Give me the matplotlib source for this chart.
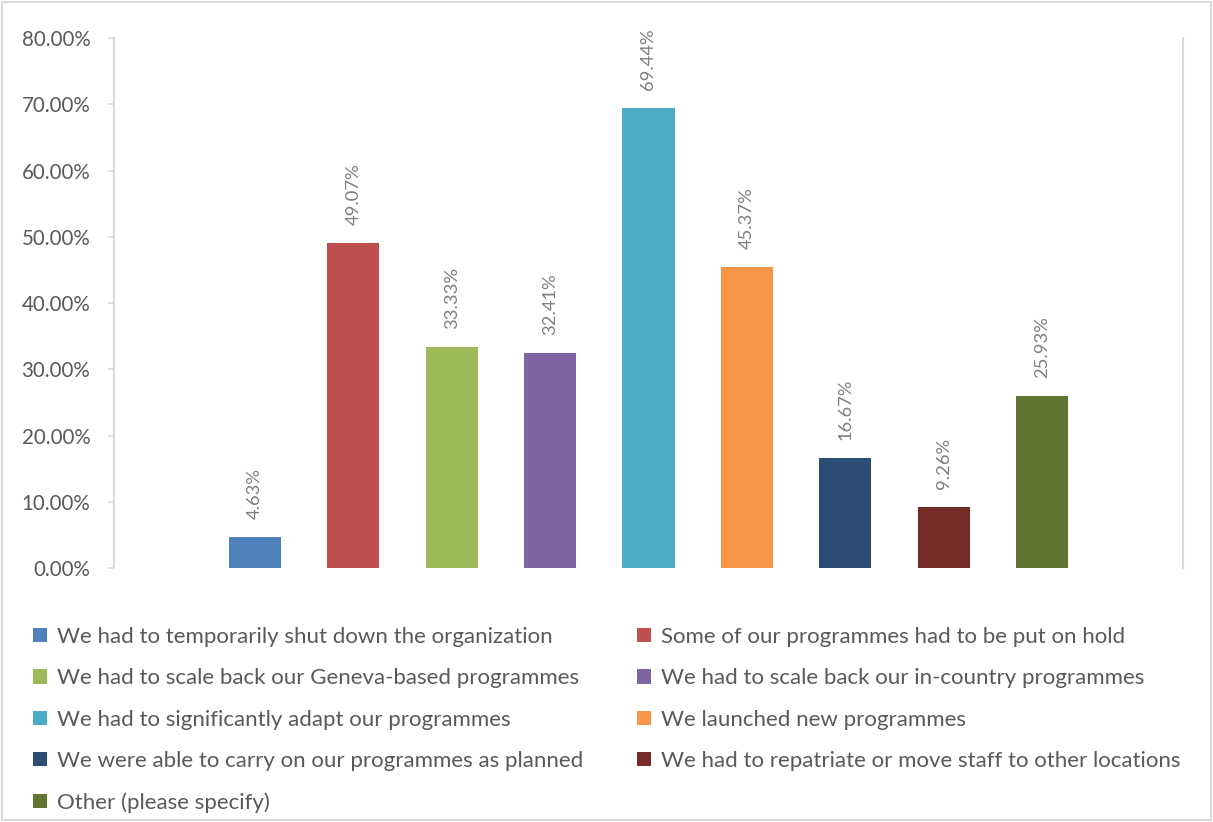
import matplotlib
matplotlib.use("Agg")
import matplotlib.pyplot as plt
from matplotlib.patches import Patch, Rectangle
from matplotlib.ticker import FuncFormatter

plt.rcParams['font.family'] = ['Lato', 'DejaVu Sans']

# survey answers, share of respondents
categories = [
    "We had to temporarily shut down the organization",
    "Some of our programmes had to be put on hold",
    "We had to scale back our Geneva-based programmes",
    "We had to scale back our in-country programmes",
    "We had to significantly adapt our programmes",
    "We launched new programmes",
    "We were able to carry on our programmes as planned",
    "We had to repatriate or move staff to other locations",
    "Other (please specify)",
]
shares = [4.63, 49.07, 33.33, 32.41, 69.44, 45.37, 16.67, 9.26, 25.93]
colors = ["#4F81BD", "#C0504D", "#9BBB59", "#8064A2", "#4BACC6",
          "#F79646", "#2C4D75", "#772C2A", "#5F7530"]
yticks = [0, 10, 20, 30, 40, 50, 60, 70, 80]

W, H = 1213, 822
fig = plt.figure(figsize=(W / 100, H / 100), dpi=100)
ax = fig.add_axes([114 / W, (H - 568) / H, (1183 - 114) / W, (568 - 38) / H])

x = list(range(len(shares)))
bars = ax.bar(x, shares, width=0.53, color=colors)

for xi, v in zip(x, shares):
    ax.annotate(f"{v:.2f}%", (xi, v), xytext=(0, 13), textcoords="offset points",
                rotation=90, ha="center", va="bottom", fontsize=13.2, color="#7F7F7F")

ax.set_xlim(-1.433, 9.433)
ax.set_ylim(0, 80)
ax.set_yticks(yticks)
ax.yaxis.set_major_formatter(FuncFormatter(lambda v, p: f"{v:.2f}%"))
ax.tick_params(axis="y", labelsize=14.8, labelcolor="#595959", color="#D9D9D9",
               length=4.5, width=1.2, pad=12.5)
ax.set_xticks([])
for side in ("top", "bottom"):
    ax.spines[side].set_visible(False)
for side in ("left", "right"):
    ax.spines[side].set_color("#D9D9D9")
    ax.spines[side].set_linewidth(1.5)

# legend, row-major order like the original
order = [0, 2, 4, 6, 8, 1, 3, 5, 7]
handles = [Patch(facecolor=colors[i], edgecolor="none") for i in order]
labels = [categories[i] for i in order]
fig.legend(handles, labels, ncol=2, loc="upper left",
           bbox_to_anchor=(33 / W, 1 - 627 / H), frameon=False, borderpad=0,
           borderaxespad=0, fontsize=16, labelcolor="#595959",
           handlelength=0.63, handleheight=0.63, handletextpad=0.45,
           columnspacing=2.4, labelspacing=0.96)

# chart border
fig.patches.append(Rectangle((0.002, 0.002), 0.996, 0.996, transform=fig.transFigure,
                             fill=False, edgecolor="#D9D9D9", linewidth=1.5))

fig.savefig("out.png", dpi=100)
